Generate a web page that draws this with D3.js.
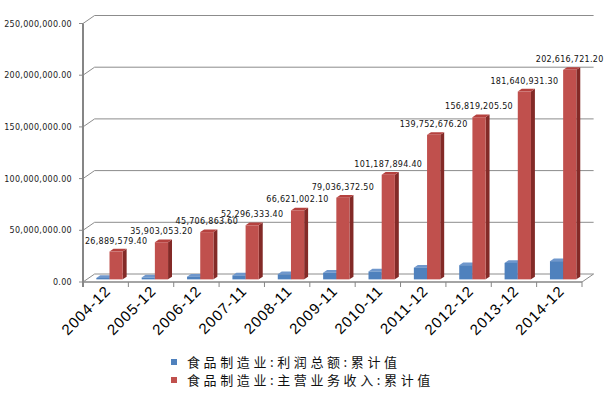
<!DOCTYPE html>
<html>
<head>
<meta charset="utf-8">
<script src="https://cdn.jsdelivr.net/npm/d3@7"></script>
<style>
  body { margin: 0; background: #fff; }
  text { font-family: "DejaVu Sans", sans-serif; }
</style>
</head>
<body>
<div id="chart"></div>
<script>
// data
var categories = ["2004-12", "2005-12", "2006-12", "2007-11", "2008-11", "2009-11", "2010-11", "2011-12", "2012-12", "2013-12", "2014-12"];
var profit = [1300000, 1800000, 2600000, 3800000, 4900000, 6400000, 7600000, 11300000, 13700000, 15900000, 17600000];
var revenue = [26889579.4, 35903053.2, 45706863.6, 52296333.4, 66621002.1, 79036372.5, 101187894.4, 139752676.2, 156819205.5, 181640931.3, 202616721.2];
var yTicks = [0, 50000000, 100000000, 150000000, 200000000, 250000000];
var seriesNames = ["食品制造业:利润总额:累计值", "食品制造业:主营业务收入:累计值"];

var width = 609, height = 394;
var DX = 11.6, DY = -8;      // depth of the floor
var z0 = 0.33, z1 = 0.67;    // bar depth inside the floor

var colors = [
  {front: "#4f81bd", side: "#2f5689", top: "#6f97cc"},
  {front: "#c0504d", side: "#832a27", top: "#b5413e"}
];

var svg = d3.select("#chart").append("svg")
  .attr("width", width)
  .attr("height", height);

var x = d3.scaleBand().domain(categories).range([83, 582]);
var x1 = d3.scaleBand().domain([0, 1]).range([0, x.bandwidth()]).paddingOuter(0.72);
var y = d3.scaleLinear().domain([0, 250000000]).range([282, 23.5]);

var fmt = d3.format(",.2f");

// back wall gridlines + connectors
var grid = svg.append("g");
yTicks.forEach(function(t) {
  grid.append("line")
    .attr("x1", 83 + DX).attr("x2", 582 + DX)
    .attr("y1", y(t) + DY).attr("y2", y(t) + DY)
    .style("stroke", "#8c8c8c").style("stroke-width", 1);
  grid.append("line")
    .attr("x1", 83).attr("x2", 83 + DX)
    .attr("y1", y(t)).attr("y2", y(t) + DY)
    .style("stroke", "#8c8c8c").style("stroke-width", 1);
  grid.append("line")
    .attr("x1", 79).attr("x2", 83)
    .attr("y1", y(t)).attr("y2", y(t))
    .style("stroke", "#8c8c8c").style("stroke-width", 1);
  grid.append("text")
    .attr("x", 72).attr("y", y(t) + 3)
    .attr("text-anchor", "end")
    .style("font-size", "8px")
    .style("letter-spacing", "0.3px")
    .style("fill", "#222")
    .text(fmt(t));
});

// floor right edge
grid.append("line")
  .attr("x1", 582).attr("x2", 582 + DX)
  .attr("y1", y(0)).attr("y2", y(0) + DY)
  .style("stroke", "#8c8c8c");

// axes
svg.append("line")
  .attr("x1", 83).attr("x2", 83)
  .attr("y1", y(250000000)).attr("y2", y(0) + 5)
  .style("stroke", "#868686").style("stroke-width", 2);
svg.append("line")
  .attr("x1", 82).attr("x2", 582)
  .attr("y1", y(0)).attr("y2", y(0))
  .style("stroke", "#868686").style("stroke-width", 1.5);

var bounds = categories.map(function(c) { return x(c); }).concat([582]);
svg.selectAll(".xtick").data(bounds).enter().append("line")
  .attr("x1", function(d) { return d; }).attr("x2", function(d) { return d; })
  .attr("y1", y(0)).attr("y2", y(0) + 5)
  .style("stroke", "#868686").style("stroke-width", 1);

// bars
function pts(a) { return a.map(function(p) { return p.join(","); }).join(" "); }

var bars = svg.append("g");
categories.forEach(function(c, i) {
  [profit[i], revenue[i]].forEach(function(v, s) {
    var xl = x(c) + x1(s) + z0 * DX;
    var xr = xl + x1.bandwidth();
    var yt = y(v) + z0 * DY;
    var yb = y(0) + z0 * DY;
    var ddx = (z1 - z0) * DX, ddy = (z1 - z0) * DY;
    bars.append("polygon")
      .attr("points", pts([[xr, yt], [xr + ddx, yt + ddy], [xr + ddx, yb + ddy], [xr, yb]]))
      .style("fill", colors[s].side);
    bars.append("polygon")
      .attr("points", pts([[xl, yt], [xr, yt], [xr + ddx, yt + ddy], [xl + ddx, yt + ddy]]))
      .style("fill", colors[s].top);
    bars.append("rect")
      .attr("x", xl).attr("y", yt)
      .attr("width", xr - xl).attr("height", yb - yt)
      .style("fill", colors[s].front);
  });
});

// data labels on revenue
svg.selectAll(".lbl").data(revenue).enter().append("text")
  .attr("x", function(d, i) { return x(categories[i]) + x1(1) + z0 * DX + x1.bandwidth() / 2; })
  .attr("y", function(d) { return y(d) + z0 * DY - 8; })
  .attr("text-anchor", "middle")
  .style("font-size", "8px")
  .style("letter-spacing", "0.3px")
  .style("fill", "#111")
  .text(function(d) { return fmt(d); });

// category labels
svg.selectAll(".xl").data(categories).enter().append("text")
  .attr("transform", function(d) {
    return "translate(" + (x(d) + x.bandwidth() / 2 + 6) + "," + 292 + ") rotate(-45)";
  })
  .attr("text-anchor", "end")
  .style("font-family", "'Liberation Sans', sans-serif")
  .style("font-size", "15px")
  .style("letter-spacing", "1px")
  .style("fill", "#000")
  .text(function(d) { return d; });

// legend
var legend = svg.append("g");
seriesNames.forEach(function(n, i) {
  legend.append("rect")
    .attr("x", 171).attr("y", 359 + i * 18)
    .attr("width", 6).attr("height", 6)
    .style("fill", colors[i].front);
  legend.append("text")
    .attr("x", 187).attr("y", 366.5 + i * 18)
    .style("font-family", "'Noto Sans CJK SC', sans-serif")
    .style("font-size", "13px")
    .style("letter-spacing", "3.6px")
    .style("fill", "#111")
    .text(n);
});
</script>
</body>
</html>
